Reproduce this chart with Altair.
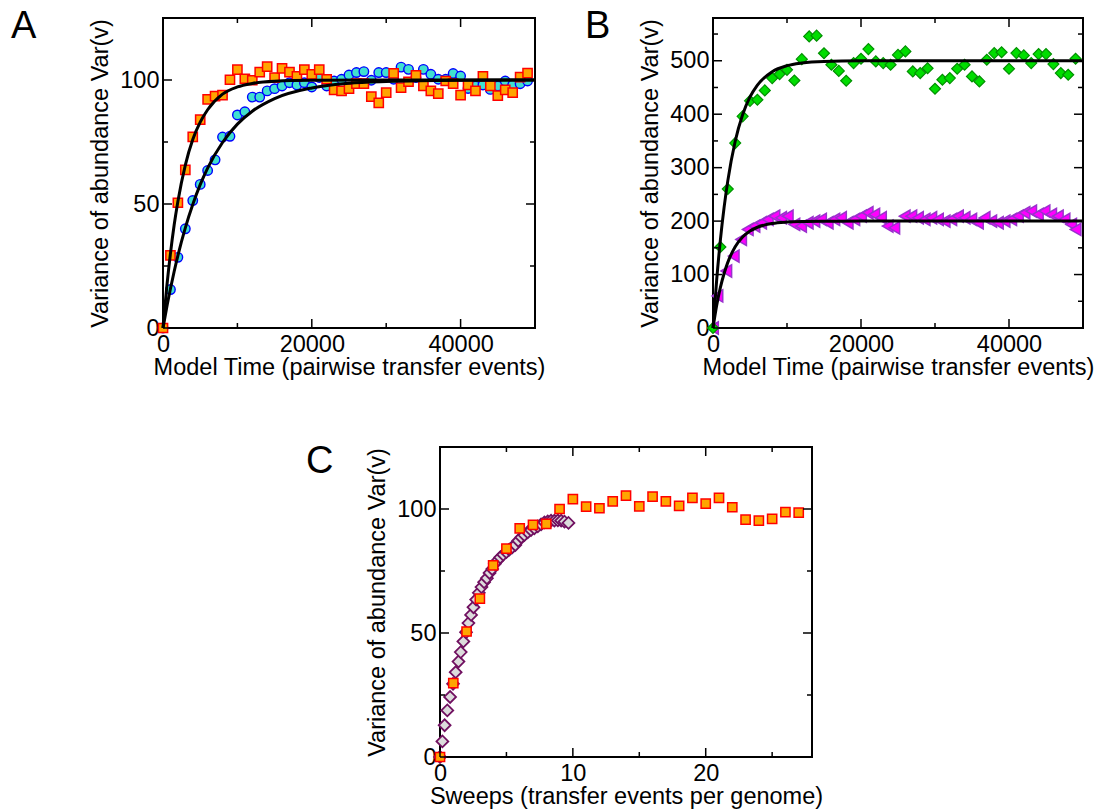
import altair as alt
import pandas as pd

FONT = "Liberation Sans"
FS = 23.5

# ---------------- Panel A data ----------------
a_x = list(range(0, 50000, 1000))
a_squares = [0, 29.3, 50.5, 63.8, 77.1, 84, 92.2, 93.5, 93.9, 100.1,
             104.2, 100.5, 99.9, 103.2, 105.4, 101, 104.7, 103.2, 101.5, 104.2,
             102.3, 104.2, 100.3, 96, 95.6, 96.5, 98.5, 98.5, 93.3, 90.8,
             94.9, 102.7, 96.9, 99.3, 101.9, 97.6, 95.6, 94.5, 99.6, 98.5,
             93.9, 98, 95.6, 101.5, 97.6, 93.7, 96, 94.9, 101.2, 102.8]
a_circles = [0, 15.5, 28.5, 40, 51.4, 57.9, 63.5, 67.8, 77, 77.3,
             85.9, 87.2, 93.1, 93.1, 95.6, 96.5, 97.6, 98.9, 98, 98.9,
             97.2, 101, 97.6, 99.6, 100.3, 102, 103, 103.4, 99.9, 103,
             103, 100.3, 105.2, 104.3, 101, 104.3, 102.3, 100.3, 100.3, 102.6,
             101.6, 96.6, 97.6, 98, 96.2, 97.6, 99.6, 98, 98.5, 99.6]
a_fit_fast_x = [0, 500, 1000, 1500, 2000, 3000, 4000, 5000, 6000, 8000, 10000, 12000, 15000, 20000, 30000, 50000]
a_fit_fast_y = [0, 16.4, 30, 41.5, 51, 65.7, 76, 83, 88, 94.3, 97.2, 98.6, 99.5, 99.9, 100, 100]
a_fit_slow_x = [0, 500, 1000, 1500, 2000, 3000, 4000, 5000, 6000, 8000, 10000, 12000, 15000, 20000, 25000, 30000, 40000, 50000]
a_fit_slow_y = [0, 8.3, 15.8, 22.8, 29.2, 40.4, 49.8, 57.8, 64.5, 74.8, 82.2, 87.4, 92.5, 96.8, 98.7, 99.4, 99.9, 100]

# ---------------- Panel B data ----------------
b_x = list(range(0, 50000, 1000))
b_diamonds = [0, 151.5, 260, 346, 396, 425, 427, 444.5, 467.6, 475,
              483, 463, 503, 545.5, 547, 514, 492.5, 481, 462.6, 495.6,
              503.7, 521.8, 498.8, 495.6, 492.5, 511, 517.5, 480, 477, 486,
              447.6, 464.5, 467.6, 485, 492.5, 470.7, 461.3, 501.9, 514.3, 516,
              485, 514.3, 510, 495.6, 512.5, 512.5, 493.8, 477, 473.8, 503.7]
b_tri_x = [0, 600, 1800, 2800, 3800, 4700, 5600, 6500, 7400, 8300, 9200,
           10100, 11000, 11900, 12800, 13700, 14600, 15500, 16400, 17300, 18200,
           19100, 20000, 20900, 21800, 22700, 23600, 24500, 25900, 26800, 27700,
           28600, 29500, 30400, 31300, 32200, 33100, 34000, 34900, 35800, 36700,
           37600, 38500, 39400, 40300, 41200, 42100, 43000, 43900, 44800, 45700,
           46600, 47500, 48400, 49000]
b_tri_y = [0, 60, 106.6, 134.6, 165.8, 184.4, 190.7, 196.9, 203.1, 209.3, 206.2,
           209.3, 193.8, 190.7, 196.9, 200, 203.1, 196.9, 203.1, 206.2, 196.9,
           203.1, 209.3, 215.6, 212.5, 206.2, 190.7, 187.5, 209.3, 209.3, 206.2,
           203.1, 206.2, 203.1, 200, 203.1, 209.3, 206.2, 203.1, 196.9, 206.2,
           200, 196.9, 200, 203.1, 209.3, 215.6, 218.7, 212.5, 218.7, 212.5,
           209.3, 203.1, 193.8, 184.4]
b_fit_x = [0, 500, 1000, 1500, 2000, 3000, 4000, 5000, 6000, 8000, 10000, 12000, 15000, 20000, 30000, 50000]
b_fit_green_y = [0, 90.6, 165, 225.6, 275.3, 349.4, 399, 432.3, 454.6, 479.6, 490.8, 495.9, 498.8, 499.8, 500, 500]
b_fit_magenta_y = [0, 42.6, 75.9, 102, 122.8, 152, 170.2, 181.5, 188.5, 195.6, 198.3, 199.4, 199.8, 200, 200, 200]

# ---------------- Panel C data ----------------
c_sq_x = list(range(0, 28))
c_squares = [0, 29.8, 50.6, 63.9, 77.3, 84, 92.2, 93.6, 94, 100,
             104, 101, 100.3, 103.1, 105.4, 101.1, 105, 103.1, 101.3, 104.5,
             102.2, 104.5, 100.7, 95.7, 95.3, 96, 98.7, 98.5]
c_dia_x = [0, 0.18, 0.35, 0.55, 0.76, 0.98, 1.18, 1.39, 1.56, 1.76, 1.96, 2.14, 2.34, 2.52,
           2.72, 2.92, 3.12, 3.32, 3.53, 3.73, 3.93, 4.13, 4.33, 4.53, 4.76, 4.99, 5.21,
           5.44, 5.67, 5.89, 6.12, 6.35, 6.6, 6.85, 7.1, 7.36, 7.61, 7.86, 8.11, 8.36,
           8.61, 8.87, 9.12, 9.37, 9.67]
c_dia_y = [0, 6.3, 12.8, 18.8, 24.2, 29.5, 34.2, 38.5, 42.3, 46.6, 50.3, 54, 57.3, 60.4,
           63.5, 66.2, 68.5, 70.5, 72.1, 74.2, 75.8, 77.9, 79.2, 80.5, 81.6, 82.6, 83.6,
           84.6, 85.5, 87.2, 88.6, 89.5, 90.6, 91.5, 92.2, 93, 93.8, 94.6, 95, 95.3,
           95.3, 95.4, 95.3, 94.9, 94.4]

# tick values
ab_x_major = [0, 20000, 40000]
ab_x_minor = [10000, 30000]
a_y_major = [0, 50, 100]
a_y_minor = [25, 75]
b_y_major = [0, 100, 200, 300, 400, 500]
b_y_minor = [50, 150, 250, 350, 450, 550]
c_x_major = [0, 10, 20]
c_x_minor = [5, 15, 25]
c_y_major = [0, 50, 100]
c_y_minor = [25, 75]

panel_labels = ["A", "B", "C"]
y_title = "Variance of abundance Var(v)"
x_title_ab = "Model Time (pairwise transfer events)"
x_title_c = "Sweeps (transfer events per genome)"

MAJ, MIN = 9, 5
XPAD, YPAD, XTP, YTP = 4, 4, 0, 7


def axis(values, padding, title_pad, title):
    return alt.Axis(values=values, format="d", ticks=False, domain=False, grid=False, title=title,
                    labelFlush=False, labelPadding=padding, titlePadding=title_pad,
                    labelFontSize=FS, titleFontSize=FS, titleFontWeight="normal",
                    labelColor="black", titleColor="black", labelFont=FONT, titleFont=FONT)


class Panel:
    def __init__(self, sx, sy, xaxis, yaxis, W, H):
        self.sx, self.sy, self.xa, self.ya, self.W, self.H = sx, sy, xaxis, yaxis, W, H

    def X(self, f):
        return alt.X(f, scale=self.sx, axis=self.xa)

    def Y(self, f):
        return alt.Y(f, scale=self.sy, axis=self.ya)

    def points(self, x, y, shape, fill, stroke, size, sw=1.5):
        df = pd.DataFrame({"x": x, "y": y})
        return alt.Chart(df).mark_point(shape=shape, fill=fill, stroke=stroke, strokeWidth=sw,
                                         size=size, opacity=1, fillOpacity=1).encode(
            x=self.X("x:Q"), y=self.Y("y:Q"))

    def line(self, x, y):
        df = pd.DataFrame({"x": x, "y": y})
        return alt.Chart(df).mark_line(color="black", strokeWidth=3, interpolate="monotone").encode(
            x=self.X("x:Q"), y=self.Y("y:Q"))

    def ticks(self, xmaj, xmin, ymaj, ymin):
        W, H = self.W, self.H
        layers = []
        for vals, L in ((xmaj, MAJ), (xmin, MIN)):
            base = alt.Chart(pd.DataFrame({"v": vals})).mark_rule(color="black", strokeWidth=1.5)
            layers.append(base.encode(x=self.X("v:Q"), y=alt.value(H), y2=alt.value(H - L)))
            layers.append(base.encode(x=self.X("v:Q"), y=alt.value(0), y2=alt.value(L)))
        for vals, L in ((ymaj, MAJ), (ymin, MIN)):
            base = alt.Chart(pd.DataFrame({"v": vals})).mark_rule(color="black", strokeWidth=1.5)
            layers.append(base.encode(y=self.Y("v:Q"), x=alt.value(0), x2=alt.value(L)))
            layers.append(base.encode(y=self.Y("v:Q"), x=alt.value(W), x2=alt.value(W - L)))
        return layers

    @staticmethod
    def label(text, dx, dy):
        return alt.Chart(pd.DataFrame({"t": [text]})).mark_text(
            align="left", baseline="alphabetic", fontSize=38, font=FONT, color="black"
        ).encode(x=alt.value(dx), y=alt.value(dy), text="t:N")


# ---------------- Panel A ----------------
WA, HA = 372, 310
pa = Panel(alt.Scale(domain=[0, 50000], nice=False, zero=False),
           alt.Scale(domain=[0, 125], nice=False, zero=False),
           axis(ab_x_major, XPAD, XTP, x_title_ab), axis(a_y_major, YPAD, YTP, y_title), WA, HA)
A = alt.layer(
    pa.points(a_x, a_circles, "circle", "#40e0d0", "#0000ff", 90, sw=1.4),
    pa.points(a_x, a_squares, "square", "#ffa500", "#ff0000", 85),
    pa.line(a_fit_fast_x, a_fit_fast_y),
    pa.line(a_fit_slow_x, a_fit_slow_y),
    *pa.ticks(ab_x_major, ab_x_minor, a_y_major, a_y_minor),
    Panel.label(panel_labels[0], -152, 20),
).properties(width=WA, height=HA)

# ---------------- Panel B ----------------
WB, HB = 370, 310
pb = Panel(alt.Scale(domain=[0, 50000], nice=False, zero=False),
           alt.Scale(domain=[0, 580], nice=False, zero=False),
           axis(ab_x_major, XPAD, XTP, x_title_ab), axis(b_y_major, YPAD, YTP, y_title), WB, HB)
B = alt.layer(
    pb.points(b_tri_x, b_tri_y, "triangle-left", "#ff00ff", "#9932cc", 150),
    pb.points(b_x, b_diamonds, "diamond", "#00dd00", "#009000", 120, sw=1.2),
    pb.line(b_fit_x, b_fit_green_y),
    pb.line(b_fit_x, b_fit_magenta_y),
    *pb.ticks(ab_x_major, ab_x_minor, b_y_major, b_y_minor),
    Panel.label(panel_labels[1], -128, 20),
).properties(width=WB, height=HB)

# ---------------- Panel C ----------------
WC, HC = 372, 310
pc = Panel(alt.Scale(domain=[0, 28], nice=False, zero=False),
           alt.Scale(domain=[0, 125], nice=False, zero=False),
           axis(c_x_major, XPAD, XTP, x_title_c), axis(c_y_major, YPAD, YTP, y_title), WC, HC)
C = alt.layer(
    pc.points(c_dia_x, c_dia_y, "diamond", "#dcdcdc", "#701060", 140, sw=1.8),
    pc.points(c_sq_x, c_squares, "square", "#ffa500", "#ff0000", 85),
    *pc.ticks(c_x_major, c_x_minor, c_y_major, c_y_minor),
    Panel.label(panel_labels[2], -134, 26),
).properties(width=WC, height=HC)

spacer = alt.Chart(pd.DataFrame({"v": [0]})).mark_point(opacity=0).encode(
    x=alt.value(0), y=alt.value(0)
).properties(width=277, height=10, view=alt.ViewBackground(stroke="transparent"))

top_row = alt.hconcat(A, B, spacing=178, bounds="flush")
bottom_row = alt.hconcat(spacer, C, spacing=0, bounds="flush")

chart = alt.vconcat(top_row, bottom_row, spacing=62).properties(
    padding={"left": 10, "top": 7, "right": 0, "bottom": 0},
    background="white",
).configure_view(stroke="black", strokeWidth=2).configure_axis(labelFont=FONT, titleFont=FONT)

chart.save("out.html", embed_options={"renderer": "svg", "actions": False})
